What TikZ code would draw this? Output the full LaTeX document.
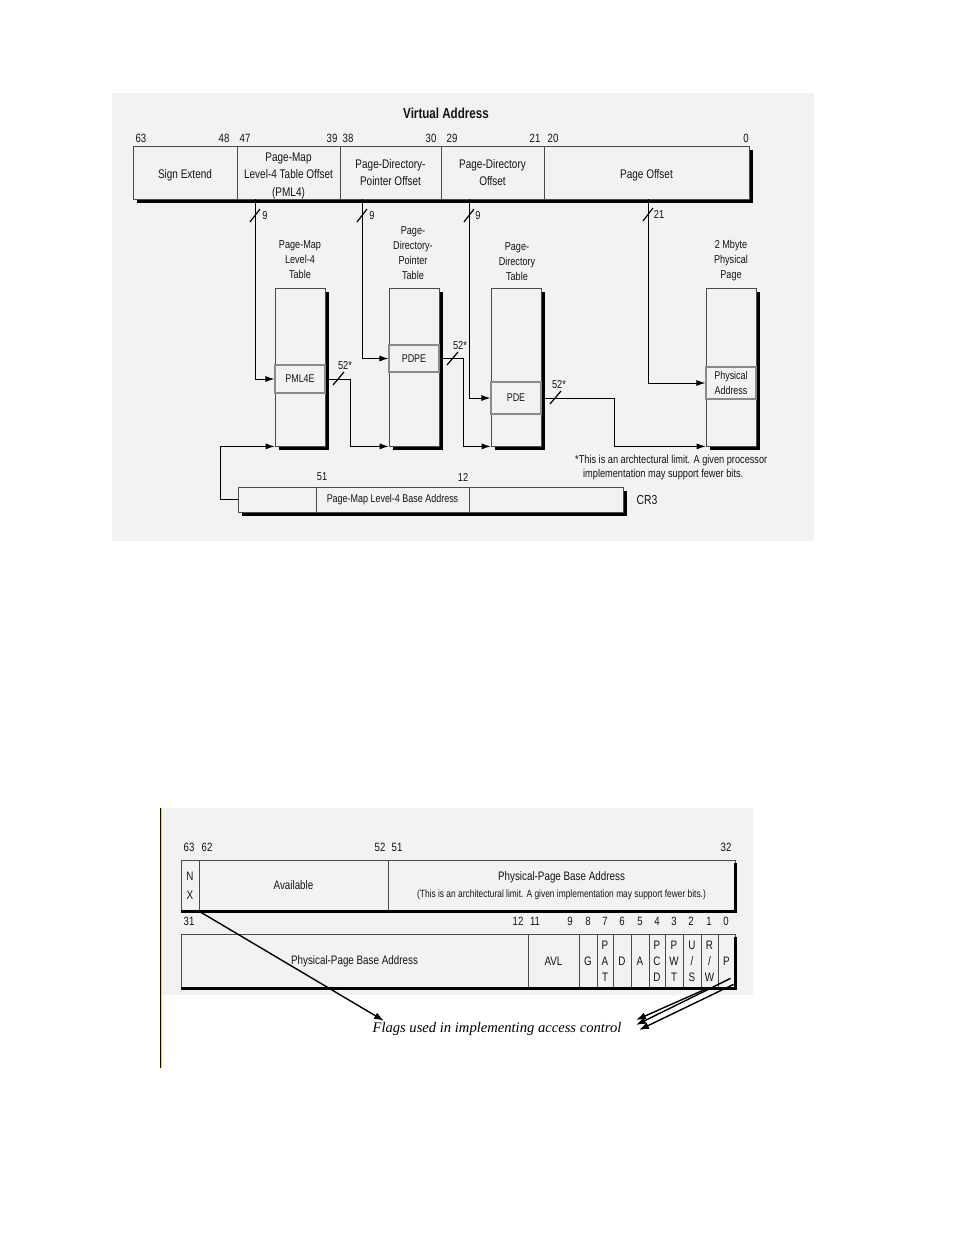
\documentclass[tikz,border=0pt]{standalone}
\usepackage{fontspec}
\setmainfont{Liberation Sans}[FakeStretch=0.8]
\newfontfamily\flagfont{Liberation Serif}
\usetikzlibrary{arrows.meta,calc,shadows}
\definecolor{panel}{HTML}{F2F2F2}
\definecolor{edge}{HTML}{4A4A4A}
\definecolor{entryedge}{HTML}{8A8A8A}
\definecolor{textc}{HTML}{141414}
\definecolor{bar}{HTML}{F0E000}
\newcommand\dnstrut{\rule{0pt}{15pt}}
\begin{document}
\begin{tikzpicture}[x=1pt,y=-1pt,
  font=\fontsize{12.5}{16.5}\selectfont, text=textc,
  rect/.style n args={4}{minimum width={#3-#1}, minimum height={#4-#2},
     at={({(#1+#3)/2},{(#2+#4)/2})}, anchor=center},
  field/.style={draw=edge, line width=0.8pt, fill=panel, inner sep=0pt, align=center},
  shad/.style={general shadow={fill=black, shadow xshift=4pt, shadow yshift=-4pt}},
  entrybox/.style={draw=entryedge, line width=1.3pt, fill=panel, inner sep=0pt, align=center, font=\fontsize{11.2}{15}\selectfont},
  arr/.style={-{Latex[length=9pt,width=6pt]}, line width=0.8pt},
  barr/.style={-{Latex[length=10pt,width=7pt]}, line width=1.4pt},
  tick/.style={line width=1.2pt},
  num/.style={inner sep=0pt, font=\fontsize{12}{14}\selectfont},
  small/.style={inner sep=0pt, font=\fontsize{11.5}{14}\selectfont},
  tlabel/.style={inner sep=0pt, align=center, font=\fontsize{11.4}{15}\selectfont},
  cell/.style={draw=edge, line width=0.8pt, fill=panel, inner sep=0pt, align=center, font=\fontsize{12.3}{16}\selectfont}
]
\useasboundingbox (0,0) rectangle (954,1235);
\fill[white] (0,0) rectangle (954,1235);

% ================= TOP PANEL =================
\fill[panel] (112,93) rectangle (814,541);
\node[font=\bfseries\fontsize{14.5}{16}\selectfont, inner sep=0pt] (title) at (446,113) {Virtual Address};

\node[num] (b63) at (141,138) {63};
\node[num] (b48) at (224,138) {48};
\node[num] (b47) at (245,138) {47};
\node[num] (b39) at (332,138) {39};
\node[num] (b38) at (348,138) {38};
\node[num] (b30) at (431,138) {30};
\node[num] (b29) at (452,138) {29};
\node[num] (b21) at (535,138) {21};
\node[num] (b20) at (553,138) {20};
\node[num] (b0) at (746,138) {0};

\node[field, shad, rect={133}{146}{749}{199}] (va) {};
\node[field, rect={133}{146}{237}{199}] (se) {\dnstrut Sign Extend};
\node[field, rect={237}{146}{340}{199}, font=\fontsize{12.5}{17.5}\selectfont] (pml4o) {\dnstrut Page-Map\\Level-4 Table Offset\\(PML4)};
\node[field, rect={340}{146}{441}{199}] (pdpo) {Page-Directory-\\Pointer Offset};
\node[field, rect={441}{146}{544}{199}] (pdo) {Page-Directory\\Offset};
\node[field, rect={544}{146}{749}{199}] (po) {\dnstrut Page Offset};

% tables
\node[tlabel] (l1) at (300,260) {Page-Map\\Level-4\\Table};
\node[tlabel] (l2) at (413,253) {Page-\\Directory-\\Pointer\\Table};
\node[tlabel] (l3) at (517,262) {Page-\\Directory\\Table};
\node[tlabel] (l4) at (731,261) {2 Mbyte\\Physical\\Page};

\node[field, shad, rect={275}{288}{325}{446}] (pml4t) {};
\node[entrybox, rect={275}{365}{325}{393}] (pml4e) {PML4E};
\node[field, shad, rect={389}{288}{439}{446}] (pdpt) {};
\node[entrybox, rect={389}{345}{439}{372}] (pdpe) {PDPE};
\node[field, shad, rect={491}{288}{541}{446}] (pdt) {};
\node[entrybox, rect={491}{382}{541}{414}] (pde) {PDE};
\node[field, shad, rect={706}{288}{756}{446}] (pp) {};
\node[entrybox, rect={706}{367}{756}{399}] (pa) {Physical\\Address};

% index lines from virtual address
\coordinate (t1) at (255,199);
\coordinate (t2) at (362,199);
\coordinate (t3) at (469,199);
\coordinate (t4) at (648,199);
\draw[arr] (t1) |- (pml4e.west);
\draw[arr] (t2) |- (pdpe.west);
\draw[arr] (t3) |- (pde.west);
\draw[arr] (t4) |- (pa.west);
\draw[tick] (250,222) -- (260,209);
\draw[tick] (357,222) -- (367,209);
\draw[tick] (464,222) -- (474,209);
\draw[tick] (643,221) -- (653,208);
\node[small] (w1) at (265,216) {9};
\node[small] (w2) at (372,216) {9};
\node[small] (w3) at (478,216) {9};
\node[small] (w4) at (659,214) {21};

% 52-bit pointers
\draw[arr] (pml4e.east) -- ++(25,0) |- (pdpt.south west);
\draw[arr] (pdpe.east) -- ++(24,0) |- (pdt.south west);
\draw[arr] (pde.east) -- ++(73,0) |- (pp.south west);
\draw[tick] (333,385) -- (344,372);
\draw[tick] (447,365) -- (458,352);
\draw[tick] (550,404) -- (561,391);
\node[small] (s1) at (345,366) {52*};
\node[small] (s2) at (460,346) {52*};
\node[small] (s3) at (559,385) {52*};

\node[small, align=left, anchor=west] (note) at (575,468)
  {*This is an archtectural limit. A given processor\\\hspace*{8pt}implementation may support fewer bits.};

% CR3
\node[num, font=\fontsize{11.5}{13}\selectfont] (c51) at (322,477) {51};
\node[num, font=\fontsize{11.5}{13}\selectfont] (c12) at (463,477) {12};
\node[field, shad, rect={238}{487}{623}{512}] (cr3) {};
\node[field, rect={238}{487}{316}{512}] (cr3a) {};
\node[field, rect={316}{487}{469}{512}, font=\fontsize{11.2}{13}\selectfont] (cr3b) {Page-Map Level-4 Base Address};
\node[field, rect={469}{487}{623}{512}] (cr3c) {};
\node[font=\fontsize{13}{15}\selectfont, inner sep=0pt] (cr3l) at (647,500) {CR3};
\draw[arr] (cr3a.west) -- ++(-17,0) |- (pml4t.south west);

% ================= BOTTOM PANEL =================
\fill[panel] (161,808) rectangle (753,995);
\draw[black, line width=1pt] (160,808) -- (160,1068);
\draw[bar, line width=1.5pt] (161.5,808) -- (161.5,1068);

\node[num] (e63) at (189,847) {63};
\node[num] (e62) at (207,847) {62};
\node[num] (e52) at (380,847) {52};
\node[num] (e51) at (397,847) {51};
\node[num] (e32) at (726,847) {32};

\node[cell, rect={181}{860}{735}{911}] (row1) {};
\node[cell, rect={181}{860}{199}{911}, font=\fontsize{12.3}{19}\selectfont] (nx) {N\\X};
\node[cell, rect={199}{860}{388}{911}] (avail) {Available};
\node[cell, rect={388}{860}{735}{911}, font=\fontsize{12.3}{17}\selectfont] (base1)
  {Physical-Page Base Address\\{\fontsize{10.5}{12}\selectfont (This is an architectural limit. A given implementation may support fewer bits.)}};
\draw[line width=2.6pt] (row1.south west) -- (row1.south east) -- ([yshift=-3pt]row1.north east);

\node[num] (f31) at (189,921) {31};
\node[num] (f12) at (518,921) {12};
\node[num] (f11) at (535,921) {11};
\node[num] (f9) at (570,921) {9};
\node[num] (f8) at (588,921) {8};
\node[num] (f7) at (605,921) {7};
\node[num] (f6) at (622,921) {6};
\node[num] (f5) at (640,921) {5};
\node[num] (f4) at (657,921) {4};
\node[num] (f3) at (674,921) {3};
\node[num] (f2) at (691,921) {2};
\node[num] (f1) at (709,921) {1};
\node[num] (f0) at (726,921) {0};

\node[cell, rect={181}{934}{735}{988}] (row2) {};
\node[cell, rect={181}{934}{528}{988}] (base2) {Physical-Page Base Address};
\node[cell, rect={528}{934}{579}{988}] (avl) {AVL};
\node[cell, rect={579}{934}{597}{988}] (g) {G};
\node[cell, rect={597}{934}{613}{988}] (pat) {P\\A\\T};
\node[cell, rect={613}{934}{631}{988}] (d) {D};
\node[cell, rect={631}{934}{649}{988}] (a) {A};
\node[cell, rect={649}{934}{665}{988}] (pcd) {P\\C\\D};
\node[cell, rect={665}{934}{683}{988}] (pwt) {P\\W\\T};
\node[cell, rect={683}{934}{701}{988}] (us) {U\\/\\S};
\node[cell, rect={701}{934}{718}{988}] (rw) {R\\/\\W};
\node[cell, rect={718}{934}{735}{988}] (p) {P};
\draw[line width=2.6pt] (row2.south west) -- (row2.south east) -- ([yshift=-3pt]row2.north east);

\node[font=\flagfont\itshape\fontsize{14.6}{16}\selectfont, text=black] (flags) at (497,1029) {Flags used in implementing access control};

\draw[barr] (nx.south east) -- ($(flags.north west)+(15,2)$);
\draw[barr] ([yshift=1pt]rw.south) -- ($(flags.east)+(11,-9)$);
\draw[barr] ($(p.south)+(4,-10)$) -- ($(flags.east)+(11,-4)$);
\draw[barr] ($(p.south)+(7,-4)$) -- ($(flags.east)+(14,1)$);
\end{tikzpicture}
\end{document}
